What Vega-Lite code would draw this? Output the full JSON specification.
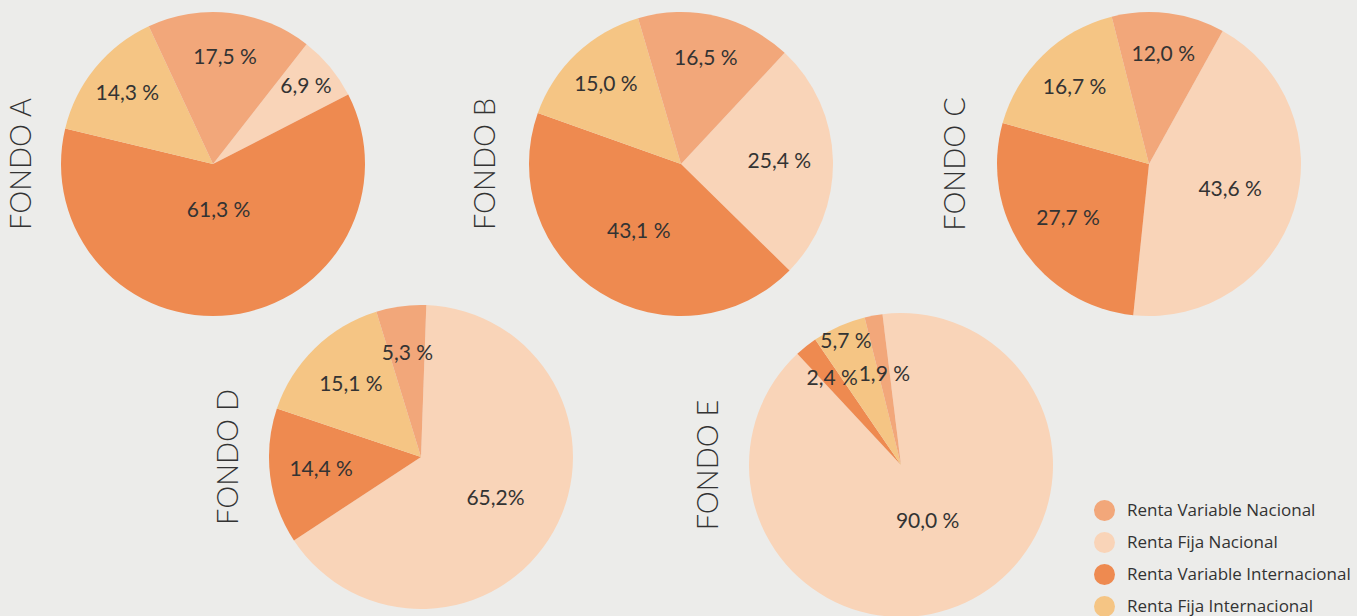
{
  "$schema": "https://vega.github.io/schema/vega-lite/v6.json",
  "background": "#ECECEA",
  "padding": {"left": 8, "top": 12, "right": 6, "bottom": 0},
  "data": {"values": [
    {"fondo": "A", "tipo": "Renta Fija Nacional", "valor": 6.9, "etiqueta": "6,9 %", "orden": 1},
    {"fondo": "A", "tipo": "Renta Variable Internacional", "valor": 61.3, "etiqueta": "61,3 %", "orden": 2},
    {"fondo": "A", "tipo": "Renta Fija Internacional", "valor": 14.3, "etiqueta": "14,3 %", "orden": 3},
    {"fondo": "A", "tipo": "Renta Variable Nacional", "valor": 17.5, "etiqueta": "17,5 %", "orden": 4},
    {"fondo": "B", "tipo": "Renta Fija Nacional", "valor": 25.4, "etiqueta": "25,4 %", "orden": 1},
    {"fondo": "B", "tipo": "Renta Variable Internacional", "valor": 43.1, "etiqueta": "43,1 %", "orden": 2},
    {"fondo": "B", "tipo": "Renta Fija Internacional", "valor": 15.0, "etiqueta": "15,0 %", "orden": 3},
    {"fondo": "B", "tipo": "Renta Variable Nacional", "valor": 16.5, "etiqueta": "16,5 %", "orden": 4},
    {"fondo": "C", "tipo": "Renta Fija Nacional", "valor": 43.6, "etiqueta": "43,6 %", "orden": 1},
    {"fondo": "C", "tipo": "Renta Variable Internacional", "valor": 27.7, "etiqueta": "27,7 %", "orden": 2},
    {"fondo": "C", "tipo": "Renta Fija Internacional", "valor": 16.7, "etiqueta": "16,7 %", "orden": 3},
    {"fondo": "C", "tipo": "Renta Variable Nacional", "valor": 12.0, "etiqueta": "12,0 %", "orden": 4},
    {"fondo": "D", "tipo": "Renta Fija Nacional", "valor": 65.2, "etiqueta": "65,2%", "orden": 1},
    {"fondo": "D", "tipo": "Renta Variable Internacional", "valor": 14.4, "etiqueta": "14,4 %", "orden": 2},
    {"fondo": "D", "tipo": "Renta Fija Internacional", "valor": 15.1, "etiqueta": "15,1 %", "orden": 3},
    {"fondo": "D", "tipo": "Renta Variable Nacional", "valor": 5.3, "etiqueta": "5,3 %", "orden": 4},
    {"fondo": "E", "tipo": "Renta Fija Nacional", "valor": 90.0, "etiqueta": "90,0 %", "orden": 1},
    {"fondo": "E", "tipo": "Renta Variable Internacional", "valor": 2.4, "etiqueta": "2,4 %", "orden": 2},
    {"fondo": "E", "tipo": "Renta Fija Internacional", "valor": 5.7, "etiqueta": "5,7 %", "orden": 3},
    {"fondo": "E", "tipo": "Renta Variable Nacional", "valor": 1.9, "etiqueta": "1,9 %", "orden": 4}
  ]},
  "columns": 3,
  "spacing": {"row": 0, "column": 0},
  "bounds": "flush",
  "align": "each",
  "resolve": {"scale": {"theta": "independent", "radius": "independent", "color": "shared"}},
  "concat": [
    {
      "width": 76, "height": 304,
      "title": {"text": "FONDO A", "offset": 24},
      "transform": [{"filter": "datum.fondo === 'A'"}],
      "encoding": {
        "theta": {"field": "valor", "type": "quantitative", "stack": true, "scale": {"range": [0.6632, 6.9464]}},
        "order": {"field": "orden", "type": "quantitative"}
      },
      "layer": [
        {"mark": {"type": "arc", "outerRadius": 152},
         "encoding": {"color": {"field": "tipo", "type": "nominal",
           "scale": {"domain": ["Renta Variable Nacional", "Renta Fija Nacional", "Renta Variable Internacional", "Renta Fija Internacional"], "range": ["#F2A77A", "#F9D4B8", "#EE8A50", "#F5C584"]},
           "legend": {"orient": "none", "legendX": 919, "legendY": 488, "title": null, "symbolType": "circle", "symbolSize": 441, "symbolStrokeWidth": 0, "labelFont": "Open Sans", "labelFontSize": 17, "labelColor": "#333333", "labelOffset": 12, "rowPadding": 11, "padding": 0, "labelLimit": 400}}}},
        {"mark": {"type": "text", "font": "Lato", "fontSize": 21, "color": "#333333"},
         "encoding": {"text": {"field": "etiqueta"}, "detail": {"field": "tipo"},
           "radius": {"field": "valor", "type": "quantitative", "scale": {"type": "linear", "domain": [0, 100], "range": [130, -5], "zero": false}}}}
      ]
    },
    {
      "width": 28, "height": 304,
      "title": {"text": "FONDO B", "offset": 28},
      "transform": [{"filter": "datum.fondo === 'B'"}],
      "encoding": {
        "theta": {"field": "valor", "type": "quantitative", "stack": true, "scale": {"range": [0.7505, 7.0337]}},
        "order": {"field": "orden", "type": "quantitative"}
      },
      "layer": [
        {"mark": {"type": "arc", "outerRadius": 152},
         "encoding": {"color": {"field": "tipo", "type": "nominal"}}},
        {"mark": {"type": "text", "font": "Lato", "fontSize": 21, "color": "#333333"},
         "encoding": {"text": {"field": "etiqueta"}, "detail": {"field": "tipo"},
           "radius": {"field": "valor", "type": "quantitative", "scale": {"type": "linear", "domain": [0, 100], "range": [125, 20], "zero": false}}}}
      ]
    },
    {
      "width": 28, "height": 304,
      "title": {"text": "FONDO C", "offset": 26},
      "transform": [{"filter": "datum.fondo === 'C'"}],
      "encoding": {
        "theta": {"field": "valor", "type": "quantitative", "stack": true, "scale": {"range": [0.5061, 6.7893]}},
        "order": {"field": "orden", "type": "quantitative"}
      },
      "layer": [
        {"mark": {"type": "arc", "outerRadius": 152},
         "encoding": {"color": {"field": "tipo", "type": "nominal"}}},
        {"mark": {"type": "text", "font": "Lato", "fontSize": 21, "color": "#333333"},
         "encoding": {"text": {"field": "etiqueta"}, "detail": {"field": "tipo"},
           "radius": {"field": "valor", "type": "quantitative", "scale": {"type": "linear", "domain": [0, 100], "range": [120, 40], "zero": false}}}}
      ]
    },
    {
      "width": 492, "height": 282,
      "title": {"text": "FONDO D", "offset": -69},
      "transform": [{"filter": "datum.fondo === 'D'"}],
      "encoding": {
        "theta": {"field": "valor", "type": "quantitative", "stack": true, "scale": {"range": [0.0349, 6.3181]}},
        "order": {"field": "orden", "type": "quantitative"}
      },
      "layer": [
        {"mark": {"type": "arc", "outerRadius": 152},
         "encoding": {"color": {"field": "tipo", "type": "nominal"}}},
        {"mark": {"type": "text", "font": "Lato", "fontSize": 21, "color": "#333333"},
         "encoding": {"text": {"field": "etiqueta"}, "detail": {"field": "tipo"},
           "radius": {"field": "valor", "type": "quantitative", "scale": {"type": "linear", "domain": [0, 100], "range": [105, 75], "zero": false}}}}
      ]
    },
    {
      "width": 468, "height": 298,
      "title": {"text": "FONDO E", "offset": -57},
      "transform": [{"filter": "datum.fondo === 'E'"}],
      "encoding": {
        "theta": {"field": "valor", "type": "quantitative", "stack": true, "scale": {"range": [-0.1222, 6.1610]}},
        "order": {"field": "orden", "type": "quantitative"}
      },
      "layer": [
        {"mark": {"type": "arc", "outerRadius": 152},
         "encoding": {"color": {"field": "tipo", "type": "nominal"}}},
        {"mark": {"type": "text", "font": "Lato", "fontSize": 21, "color": "#333333"},
         "encoding": {"text": {"field": "etiqueta"}, "detail": {"field": "tipo"},
           "radius": {"field": "valor", "type": "quantitative", "scale": {"type": "linear", "domain": [1.9, 2.4, 5.7, 90], "range": [92, 110, 135, 63], "zero": false}}}}
      ]
    }
  ],
  "config": {
    "view": {"stroke": null},
    "title": {"orient": "left", "anchor": "middle", "font": "Lato", "fontSize": 29, "fontWeight": 300, "color": "#333333"}
  }
}
